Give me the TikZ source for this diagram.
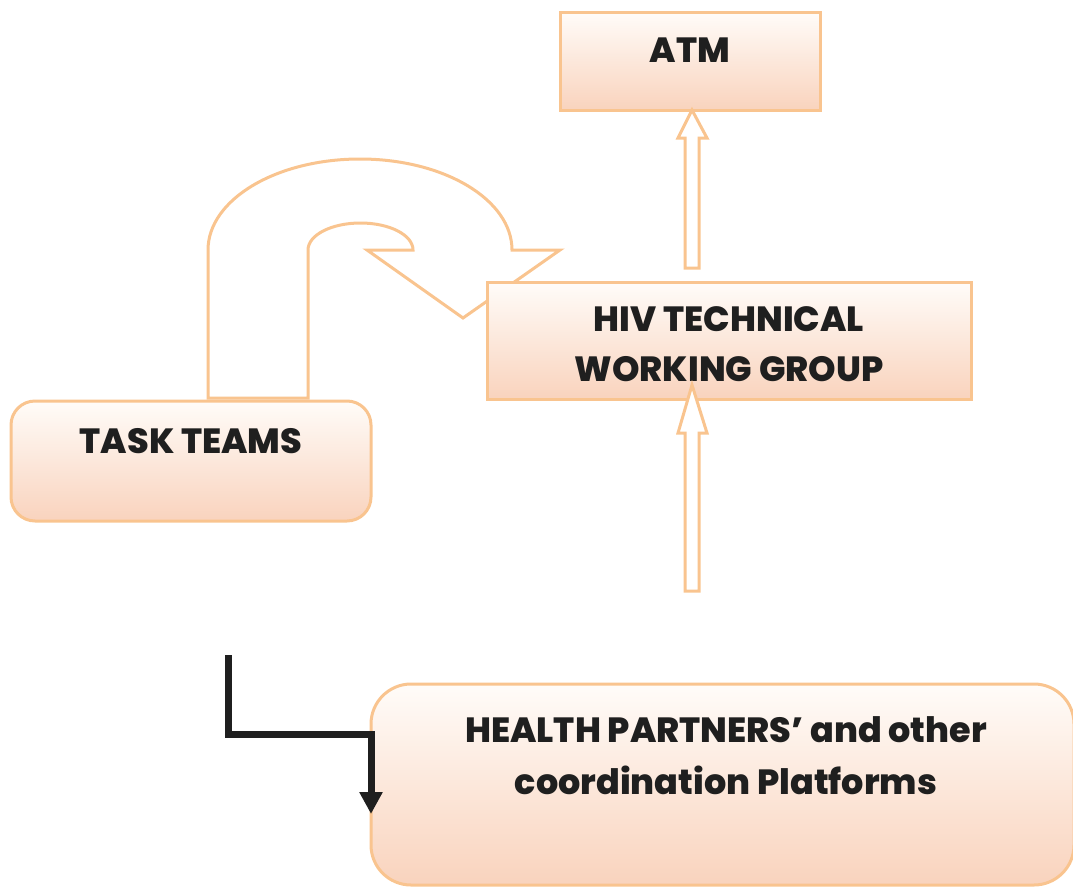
\documentclass[tikz,border=0pt]{standalone}
\usepackage{fontspec}
\setmainfont{Poppins}[BoldFont={* ExtraBold}]
\usetikzlibrary{arrows.meta,calc}
\definecolor{bord}{RGB}{249,196,143}
\definecolor{toppk}{RGB}{255,252,249}
\definecolor{botpk}{RGB}{249,211,189}
\tikzset{
  box/.style={draw=bord,line width=3pt,top color=toppk,bottom color=botpk,inner sep=0pt},
  lbl/.style={font=\bfseries\fontsize{35}{50}\selectfont,text=black!88,align=center},
  blockarrow/.style={draw=bord,line width=3pt,fill=white,line join=miter},
}
\begin{document}
\begin{tikzpicture}[x=1pt,y=-1pt]
\useasboundingbox (0,0) rectangle (1073,886);
\clip (0,0) rectangle (1073,886);
% U-shaped block arrow (drawn first, boxes overlap it)
\draw[blockarrow] (208,398) -- (208,250)
  .. controls (208,199.7) and (276,159) .. (360,159)
  .. controls (444,159) and (512,199.7) .. (512,250)
  -- (560,250) -- (463,318) -- (367,250) -- (413,250)
  .. controls (413,235) and (389.5,223) .. (360.5,223)
  .. controls (331.5,223) and (308,235) .. (308,250)
  -- (308,398) -- cycle;
% boxes
\node[box,minimum width=260pt,minimum height=98pt] (atm) at (690,61) {};
\node[lbl] at (690,50) {ATM};
\node[box,minimum width=484pt,minimum height=117pt] (hiv) at (729,340.5) {};
\node[lbl] at (729,344) {HIV TECHNICAL\\WORKING GROUP};
\node[box,rounded corners=24pt,minimum width=360pt,minimum height=120pt] (task) at (191,461) {};
\node[lbl] at (191,441) {TASK TEAMS};
\node[box,rounded corners=40pt,minimum width=703pt,minimum height=201pt] (hp) at (722.5,784.5) {};
\node[lbl,font=\bfseries\fontsize{35}{52}\selectfont] at (726,756) {HEALTH PARTNERS’ and other\\coordination Platforms};
% vertical block arrows
\draw[blockarrow] (685,268) -- (685,138) -- (678,138) -- (692,110) -- (707,138) -- (699,138) -- (699,268) -- cycle;
\draw[blockarrow] (685,591) -- (685,433) -- (678,433) -- (692,385) -- (707,433) -- (699,433) -- (699,591) -- cycle;
% black elbow arrow
\coordinate (s) at (228,655);
\coordinate (e) at (371,814);
\draw[line width=7pt,black!88,line join=miter,-{Triangle[length=22pt,width=22pt]}] (s) -- (228,734) -- (371,734) -- (e);
\end{tikzpicture}
\end{document}
